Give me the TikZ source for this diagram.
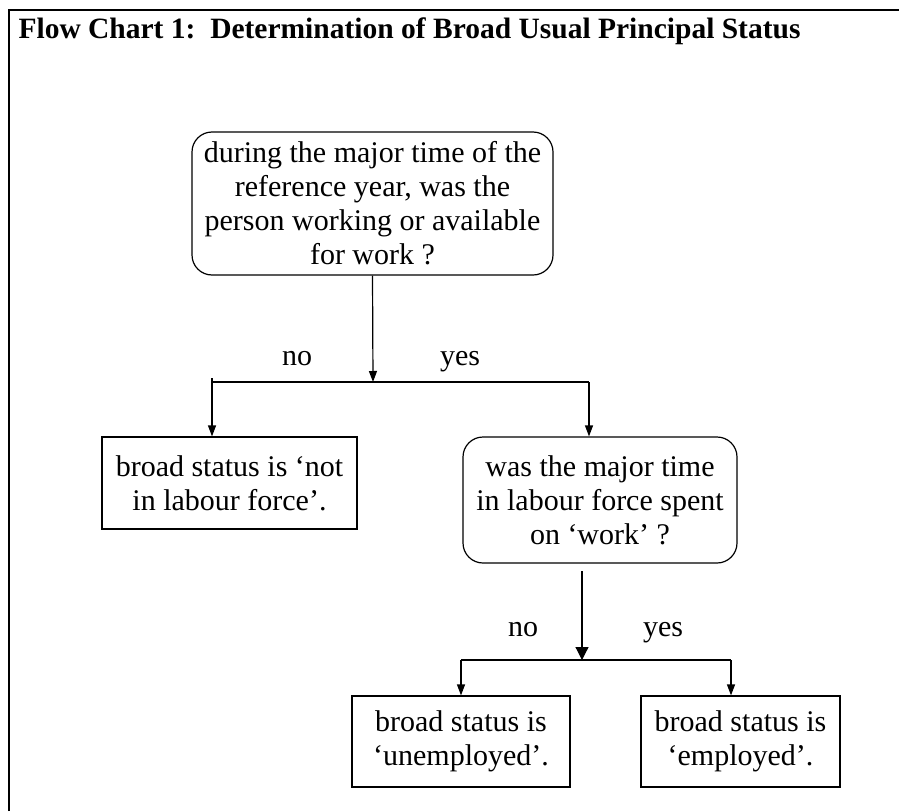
\documentclass[tikz,border=0pt]{standalone}
\usepackage{fontspec}
\setmainfont{Liberation Serif}
\usetikzlibrary{arrows.meta}

\begin{document}
\begin{tikzpicture}[x=1pt,y=-1pt,
  box/.style={draw,line width=1.2pt,align=center,inner sep=0pt,font=\fontsize{30}{34}\selectfont},
  qbox/.style={box,rounded corners=20pt},
  arr/.style={-{Triangle[length=11pt,width=8pt]},line width=1.2pt},
  bigarr/.style={-{Triangle[length=13pt,width=13pt]},line width=1.2pt},
  lbl/.style={anchor=base,font=\fontsize{30}{34}\selectfont}]
\useasboundingbox (0,0) rectangle (899,811);

% frame and title
\draw[line width=2.5pt] (9,811) -- (9,10) -- (899,10);
\node[anchor=base west,font=\bfseries\fontsize{29.5}{34}\selectfont] (title) at (15,38)
  {Flow Chart 1:\ \ Determination of Broad Usual Principal Status};

% boxes
\node[qbox,minimum width=361pt,minimum height=143pt] (q1) at (372.5,203.5)
  {during the major time of the\\reference year, was the\\person working or available\\for work ?};
\node[box,minimum width=255pt,minimum height=92pt] (nlf) at (229.5,483)
  {broad status is ‘not\\in labour force’.};
\node[qbox,minimum width=274pt,minimum height=126pt] (q2) at (600,500)
  {was the major time\\in labour force spent\\on ‘work’ ?};
\node[box,minimum width=218pt,minimum height=91pt] (unemp) at (461,741.5)
  {broad status is\\‘unemployed’.};
\node[box,minimum width=199pt,minimum height=91pt] (emp) at (740.5,741.5)
  {broad status is\\‘employed’.};

% first split
\coordinate (j1) at (373,382);
\coordinate (j1l) at (212,382);
\coordinate (j1lt) at (212,378);
\coordinate (j1r) at (589,382);
\draw[arr] (q1.south) -- (j1);
\draw[line width=1.2pt] (j1l) -- (j1r);
\draw[arr] (j1lt) -- (j1lt |- nlf.north);
\draw[arr] (j1r) -- (j1r |- q2.north);
\node[lbl] (no1) at (297,365) {no};
\node[lbl] (yes1) at (460,365) {yes};

% second split
\coordinate (s2) at (582,571);
\coordinate (j2) at (582,660);
\coordinate (j2l) at (461,660);
\coordinate (j2r) at (731,660);
\draw[bigarr] (s2) -- (j2);
\draw[line width=1.2pt] (j2l) -- (j2r);
\draw[arr] (j2l) -- (unemp.north);
\draw[arr] (j2r) -- (j2r |- emp.north);
\node[lbl] (no2) at (523,636) {no};
\node[lbl] (yes2) at (663,636) {yes};
\end{tikzpicture}
\end{document}
